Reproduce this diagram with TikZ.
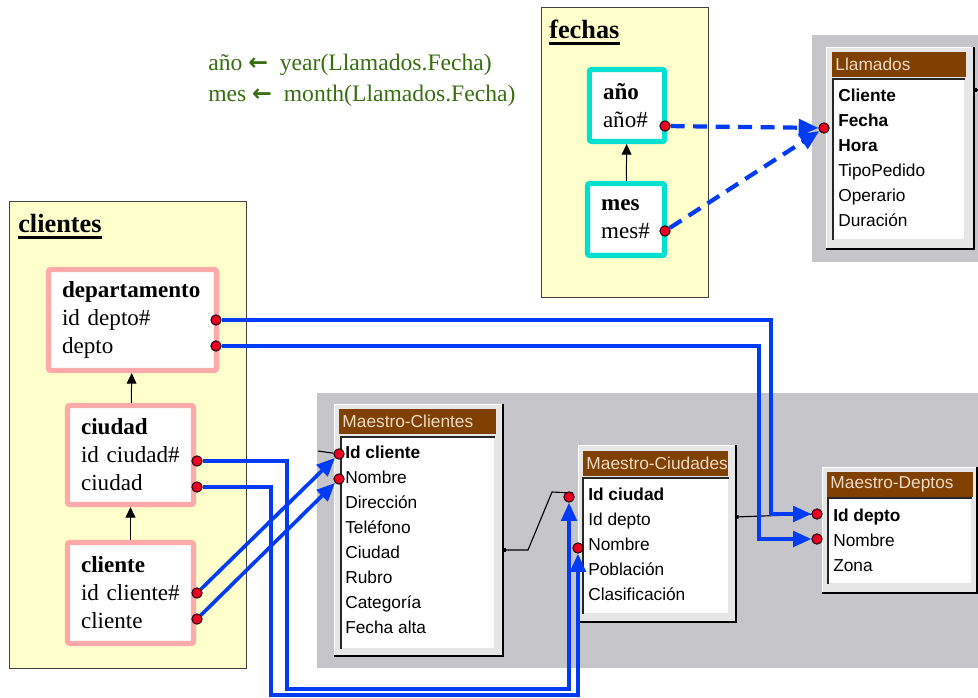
\documentclass[tikz,border=0pt]{standalone}
\usepackage{fontspec}
\setmainfont{Liberation Serif}
\setsansfont{Liberation Sans}
\newfontfamily\arrowfont{DejaVu Sans}
\usetikzlibrary{positioning, arrows.meta, matrix}

\definecolor{noteyellow}{RGB}{255,255,204}
\definecolor{pinkline}{RGB}{255,170,170}
\definecolor{cyanline}{RGB}{0,224,208}
\definecolor{panelgray}{RGB}{198,197,202}
\definecolor{framegray}{RGB}{230,230,230}
\definecolor{titlebrown}{RGB}{128,64,0}
\definecolor{titletext}{RGB}{236,218,200}
\definecolor{linkblue}{RGB}{0,60,245}
\definecolor{dotred}{RGB}{235,0,35}
\definecolor{formgreen}{RGB}{55,110,15}

\pgfdeclarelayer{front}
\pgfsetlayers{main,front}

\tikzset{
		group/.style={
			rectangle,
			draw=black!75,
			fill=noteyellow,
			line width=0.8pt,
			anchor=north west,
			inner sep=0pt
		},
		group title/.style={
			anchor=base west,
			inner sep=0pt,
			font=\fontsize{18.7}{22}\selectfont\bfseries
		},
		title rule/.style={line width=2pt},
		entity/.style={
			rectangle,
			draw=#1,
			line width=3.6pt,
			fill=white,
			rounded corners=1.5pt,
			align=left,
			inner xsep=0.34cm,
			font=\fontsize{16.4}{19.9}\selectfont
		},
		formula/.style={
			anchor=base west,
			inner sep=0pt,
			text=formgreen,
			font=\fontsize{16.8}{19.9}\selectfont
		},
		dot/.style={
			circle,
			draw=black,
			fill=dotred,
			line width=0.6pt,
			minimum size=0.26cm,
			inner sep=0pt
		},
		isa/.style={-{Triangle[length=7.5pt,width=7pt]}, line width=0.7pt},
		fk/.style={linkblue, line width=2.6pt, -{Triangle[length=13pt,width=11pt]}},
		derived/.style={linkblue, line width=3pt, dash pattern=on 10pt off 6pt,
			-{Triangle[length=14pt,width=12pt]}},
		rel/.style={line width=0.8pt, {Square[length=2.6pt,width=2.6pt]}-},
		panel/.style={rectangle, fill=panelgray, anchor=north west, inner sep=0pt},
		tframe/.style={rectangle, fill=framegray, draw=white, line width=0.8pt,
			anchor=north west, inner sep=0pt},
		tedge/.style={line width=1.6pt},
		ttitle/.style={
			rectangle,
			fill=titlebrown,
			text=titletext,
			anchor=north west,
			align=left,
			minimum height=0.625cm,
			inner xsep=0.08cm,
			inner ysep=0pt,
			font=\sffamily\fontsize{12.3}{14}\selectfont
		},
		tlist/.style={rectangle, fill=white, anchor=north west, inner sep=0pt},
		tinset/.style={line width=1.4pt, black!85},
		key/.style={font=\sffamily\bfseries\fontsize{12.3}{14}\selectfont},
		fields/.style={
			matrix of nodes,
			anchor=north west,
			inner sep=0pt,
			row sep=0pt,
			nodes={
				anchor=west,
				inner sep=0pt,
				minimum height=0.625cm,
				text height=1.6ex,
				text depth=0.4ex,
				font=\sffamily\fontsize{12.3}{14}\selectfont
			}
		}
	}

\begin{document}
\begin{tikzpicture}[x=0.025cm, y=-0.025cm]
		\useasboundingbox (0,0) rectangle (978,697);

		% groups
		\node[group, minimum width=4.175cm, minimum height=7.25cm] (fechas) at (541,7) {};
		\node[group title] (fechas-t) at (549,38) {fechas};
		\draw[title rule] ([yshift=-3.5pt]fechas-t.south west) -- ([yshift=-3.5pt]fechas-t.south east);
		\node[group, minimum width=5.925cm, minimum height=11.675cm] (clientes) at (9,201) {};
		\node[group title] (clientes-t) at (18,232) {clientes};
		\draw[title rule] ([yshift=-3.5pt]clientes-t.south west) -- ([yshift=-3.5pt]clientes-t.south east);

		\node[formula] (form-anio) at (208,70) {año {\arrowfont\bfseries ←}\enspace year(Llamados.Fecha)};
		\node[formula] (form-mes) at (208,101) {mes {\arrowfont\bfseries ←}\enspace month(Llamados.Fecha)};

		% entities
		\node[entity=cyanline, minimum width=1.875cm, minimum height=1.8cm, text width=1.2cm]
			(anio) at (627,105.5) {\textbf{año}\\año\#};
		\node[entity=cyanline, minimum width=1.925cm, minimum height=1.8cm, text width=1.245cm]
			(mes) at (626,219.5) {\textbf{mes}\\mes\#};
		\node[entity=pinkline, minimum width=4.2cm, minimum height=2.525cm, text width=3.52cm]
			(dep) at (132.5,320) {\textbf{departamento}\\id depto\#\\depto};
		\node[entity=pinkline, minimum width=3.15cm, minimum height=2.475cm, text width=2.47cm]
			(ciu) at (130.5,455) {\textbf{ciudad}\\id ciudad\#\\ciudad};
		\node[entity=pinkline, minimum width=3.15cm, minimum height=2.525cm, text width=2.47cm]
			(cli) at (130.5,593) {\textbf{cliente}\\id cliente\#\\cliente};

		\draw[isa] (mes) -- (anio);
		\draw[isa] (ciu) -- (dep);
		\draw[isa] (cli) -- (ciu);

		% Llamados
		\node[panel, minimum width=4.15cm, minimum height=5.675cm] (ll-panel) at (812,35) {};
		\node[tframe, minimum width=3.675cm, minimum height=5.025cm] (ll) at (826,47) {};
		\draw[tedge] (ll.north east) -- (ll.south east) -- (ll.south west);
		\node[ttitle, text width=3.19cm] (ll-t) at (832,52) {\mbox{Llamados}};
		\node[tlist, minimum width=3.275cm, minimum height=4cm] (ll-l) at (833,79) {};
		\draw[tinset] (ll-l.south west) -- (ll-l.north west) -- (ll-l.north east);
		\matrix (ll-f) [fields] at (838,84.5)
			{ |[key]| Cliente \\ |[key]| Fecha \\ |[key]| Hora \\
			  TipoPedido \\ Operario \\ Duración \\ };

		% Maestro-Clientes
		\node[panel, minimum width=16.525cm, minimum height=6.875cm] (big-panel) at (317,393) {};
		\node[tframe, minimum width=4.2cm, minimum height=6.275cm] (mcl) at (334,404) {};
		\draw[tedge] (mcl.north east) -- (mcl.south east) -- (mcl.south west);
		\node[ttitle, text width=3.765cm] (mcl-t) at (339,409) {\mbox{Maestro-Clientes}};
		\node[tlist, minimum width=3.825cm, minimum height=5.275cm] (mcl-l) at (341,437) {};
		\draw[tinset] (mcl-l.south west) -- (mcl-l.north west) -- (mcl-l.north east);
		\matrix (mcl-f) [fields] at (345,441.5)
			{ |[key]| Id cliente \\ Nombre \\ Dirección \\ Teléfono \\
			  Ciudad \\ Rubro \\ Categoría \\ Fecha alta \\ };

		% Maestro-Ciudades
		\node[tframe, minimum width=3.925cm, minimum height=4.4cm] (mci) at (578,445) {};
		\draw[tedge] (mci.north east) -- (mci.south east) -- (mci.south west);
		\node[ttitle, text width=3.465cm] (mci-t) at (583,451) {\mbox{Maestro-Ciudades}};
		\node[tlist, minimum width=3.625cm, minimum height=3.375cm] (mci-l) at (583,478) {};
		\draw[tinset] (mci-l.south west) -- (mci-l.north west) -- (mci-l.north east);
		\matrix (mci-f) [fields] at (588,483.5)
			{ |[key]| Id ciudad \\ Id depto \\ Nombre \\ Población \\ Clasificación \\ };

		% Maestro-Deptos
		\node[tframe, minimum width=3.85cm, minimum height=3.125cm] (md) at (822,467) {};
		\draw[tedge] (md.north east) -- (md.south east) -- (md.south west);
		\node[ttitle, text width=3.49cm] (md-t) at (827,472) {\mbox{Maestro-Deptos}};
		\node[tlist, minimum width=3.575cm, minimum height=2.125cm] (md-l) at (828,498) {};
		\draw[tinset] (md-l.south west) -- (md-l.north west) -- (md-l.north east);
		\matrix (md-f) [fields] at (833,504.5)
			{ |[key]| Id depto \\ Nombre \\ Zona \\ };

		% attachment points
		\begin{pgfonlayer}{front}
		\node[dot] (ll-fecha) at (824,128) {};
		\node[dot] (anio-id) at (665,126) {};
		\node[dot] (mes-id) at (665,231) {};
		\node[dot] (dep-id) at (216,320) {};
		\node[dot] (dep-depto) at (216,346) {};
		\node[dot] (ciu-id) at (197,461) {};
		\node[dot] (ciu-ciu) at (197,487) {};
		\node[dot] (cli-id) at (197,593) {};
		\node[dot] (cli-cli) at (197,619) {};
		\node[dot] (mcl-id) at (339,454) {};
		\node[dot] (mcl-nom) at (339,479) {};
		\node[dot] (mci-id) at (569,497) {};
		\node[dot] (mci-nom) at (578,548) {};
		\node[dot] (md-id) at (817,514) {};
		\node[dot] (md-nom) at (817,539) {};
		\end{pgfonlayer}

		% relationships
		\coordinate (ll-out) at (973,90);
		\coordinate (mcl-in) at (318,451);
		\coordinate (mcl-out) at (502,550);
		\coordinate (mci-out) at (735,517);
		\draw[rel] (ll-out) -- ++(8,0);
		\draw[line width=0.8pt] (mcl-in) -- (mcl-id);
		\draw[rel] (mcl-out) -- ++(26,0) -- ++(24,-58) -- (mci-id.north east);
		\draw[rel] (mci-out) -- (md-id);

		%links:
		\draw[derived] (anio-id) -- (ll-fecha);
		\draw[derived] (mes-id) -- (ll-fecha);
		\draw[fk] (dep-id) -- ++(555,0) |- (md-id);
		\draw[fk] (dep-depto) -- ++(543,0) |- (md-nom);
		\draw[fk] (ciu-id) -- ++(90,0) -- ++(0,228) -| (mci-id);
		\draw[fk] (ciu-ciu) -- ++(74,0) -- ++(0,208) -| (mci-nom);
		\draw[fk] (cli-id) -- (mcl-id);
		\draw[fk] (cli-cli) -- (mcl-nom);

	\end{tikzpicture}
\end{document}
